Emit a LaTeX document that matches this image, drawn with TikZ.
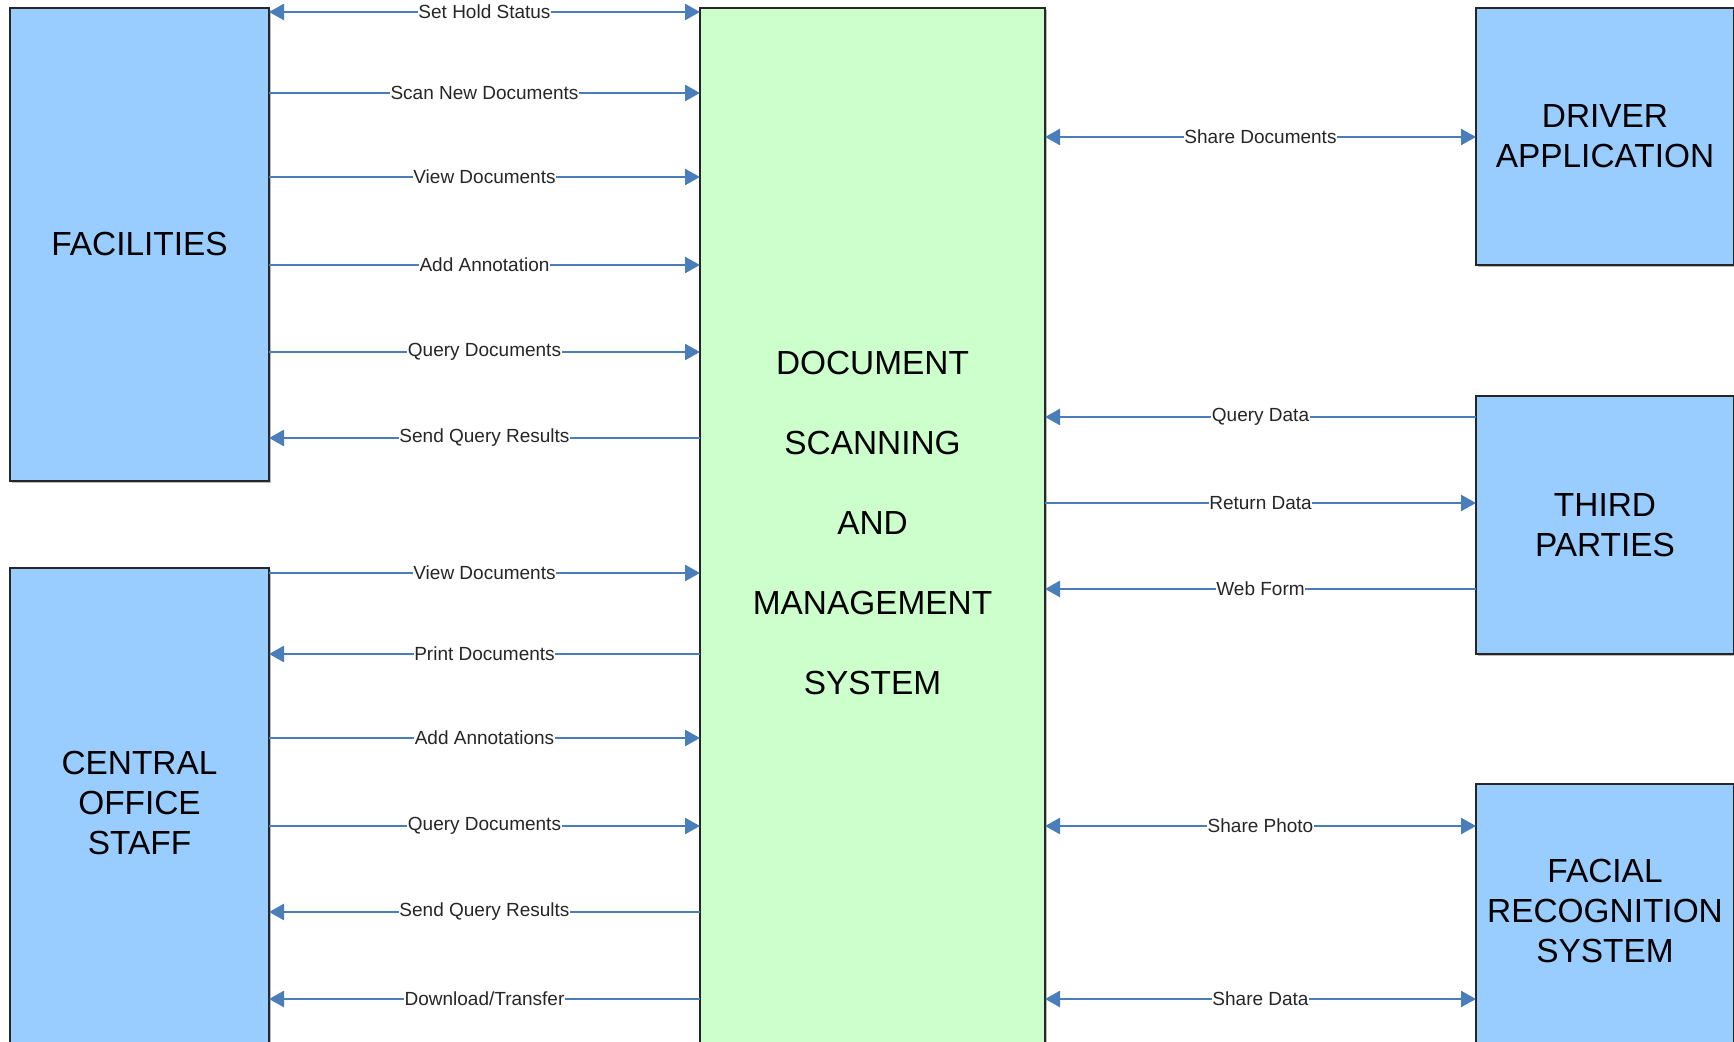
\documentclass[tikz,border=0pt]{standalone}
\usepackage{fontspec}
\setmainfont{Liberation Sans}
\usetikzlibrary{arrows.meta,shadows}
\definecolor{boxblue}{HTML}{99CCFF}
\definecolor{boxgreen}{HTML}{CCFFCC}
\definecolor{flow}{HTML}{4A7EBB}

\begin{document}
\begin{tikzpicture}[x=0.5pt,y=-0.5pt,
  unit/.style={draw=black!85, line width=0.9pt, outer sep=0pt, inner sep=0pt,
    align=center, anchor=north west,
    drop shadow={shadow xshift=0.8pt, shadow yshift=-0.8pt, opacity=0.45, fill=black!60}},
  actor/.style={unit, fill=boxblue, font=\fontsize{16.7}{20}\selectfont},
  core/.style={unit, fill=boxgreen, font=\fontsize{16.7}{40}\selectfont},
  % caption of a box that runs off the lower edge, lifted to its visible middle
  lifted/.style={align=center, inner sep=0pt, yshift=2.5pt},
  tip/.tip={Triangle[length=7.5pt,width=8pt]},
  flowline/.style={draw=flow, line width=1.3pt, arrows={-tip}},
  both/.style={flowline, arrows={tip-tip}},
  back/.style={flowline, arrows={tip-}},
  lbl/.style={fill=white, inner xsep=0.3pt, inner ysep=1pt, text=black!85,
    font=\fontsize{9.5}{11}\selectfont}]

\clip (0,0) rectangle (1734,1042);
\fill[white] (0,0) rectangle (1734,1042);

% external parties and the central system
\node[actor, minimum width=129.5pt, minimum height=236.5pt] (fac) at (10,8) {FACILITIES};
\node[actor, minimum width=129.5pt, minimum height=240pt,
  label={[lifted, font=\fontsize{16.7}{20}\selectfont]center:CENTRAL\\OFFICE\\STAFF}]
  (cos) at (10,568) {};
\node[core, minimum width=172.5pt, minimum height=520pt,
  label={[lifted, font=\fontsize{16.7}{40}\selectfont]center:DOCUMENT\\SCANNING\\AND\\MANAGEMENT\\SYSTEM}]
  (dss) at (700,8) {};
\node[actor, minimum width=129pt, minimum height=128.5pt] (drv) at (1476,8) {DRIVER\\APPLICATION};
\node[actor, minimum width=129pt, minimum height=129pt] (tp) at (1476,396) {THIRD\\PARTIES};
\node[actor, minimum width=129pt, minimum height=132pt,
  label={[lifted, font=\fontsize{16.7}{20}\selectfont]center:FACIAL\\RECOGNITION\\SYSTEM}]
  (frs) at (1476,784) {};

% facilities <-> system
\draw[both] (fac.east |- 0,12) -- node[lbl]{Set Hold Status} (dss.west |- 0,12);
\draw[flowline] (fac.east |- 0,93) -- node[lbl]{Scan New Documents} (dss.west |- 0,93);
\draw[flowline] (fac.east |- 0,177) -- node[lbl]{View Documents} (dss.west |- 0,177);
\draw[flowline] (fac.east |- 0,265) -- node[lbl]{Add Annotation} (dss.west |- 0,265);
\draw[flowline] (fac.east |- 0,352) -- node[lbl]{Query Documents} (dss.west |- 0,352);
\draw[back] (fac.east |- 0,438) -- node[lbl]{Send Query Results} (dss.west |- 0,438);

% central office staff <-> system
\draw[flowline] (cos.east |- 0,573) -- node[lbl]{View Documents} (dss.west |- 0,573);
\draw[back] (cos.east |- 0,654) -- node[lbl]{Print Documents} (dss.west |- 0,654);
\draw[flowline] (cos.east |- 0,738) -- node[lbl]{Add Annotations} (dss.west |- 0,738);
\draw[flowline] (cos.east |- 0,826) -- node[lbl]{Query Documents} (dss.west |- 0,826);
\draw[back] (cos.east |- 0,912) -- node[lbl]{Send Query Results} (dss.west |- 0,912);
\draw[back] (cos.east |- 0,999) -- node[lbl]{Download/Transfer} (dss.west |- 0,999);

% system <-> right-hand parties
\draw[both] (dss.east |- 0,137) -- node[lbl]{Share Documents} (drv.west |- 0,137);
\draw[back] (dss.east |- 0,417) -- node[lbl]{Query Data} (tp.west |- 0,417);
\draw[flowline] (dss.east |- 0,503) -- node[lbl]{Return Data} (tp.west |- 0,503);
\draw[back] (dss.east |- 0,589) -- node[lbl]{Web Form} (tp.west |- 0,589);
\draw[both] (dss.east |- 0,826) -- node[lbl]{Share Photo} (frs.west |- 0,826);
\draw[both] (dss.east |- 0,999) -- node[lbl]{Share Data} (frs.west |- 0,999);

\end{tikzpicture}
\end{document}
